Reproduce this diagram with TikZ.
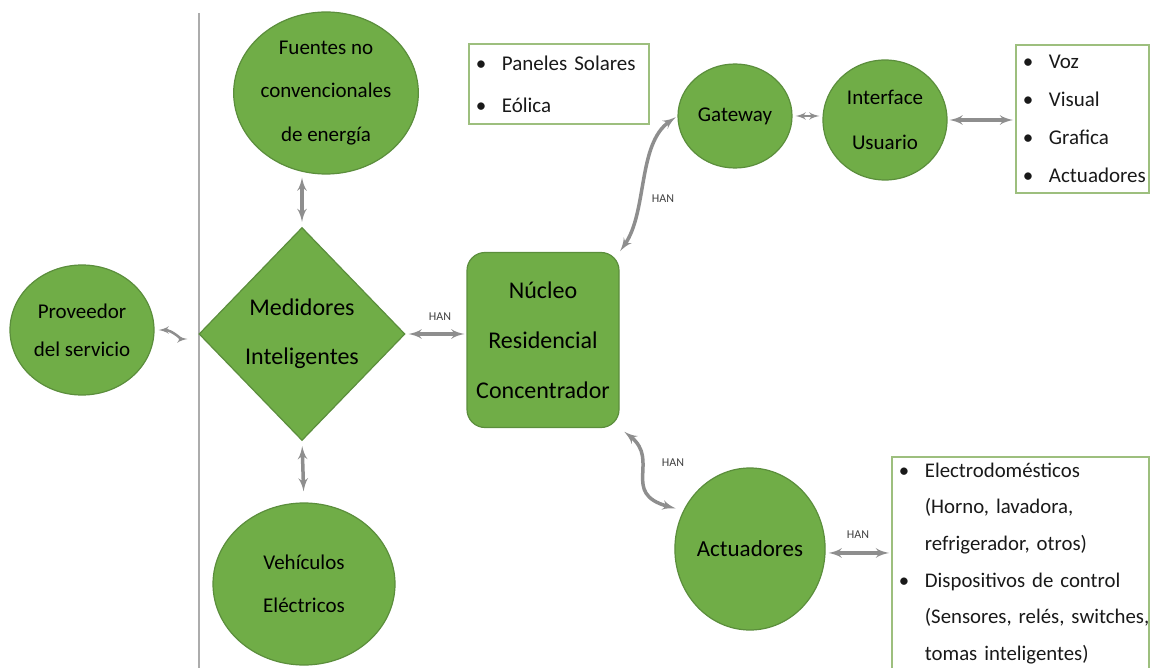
\documentclass[tikz,border=0pt]{standalone}
\usepackage{fontspec}
\setmainfont{Carlito}
\usetikzlibrary{shapes}
\usetikzlibrary{arrows}
\definecolor{hojaverde}{HTML}{70AD47}
\definecolor{bordeverde}{HTML}{5B8E3C}
\definecolor{marcoverde}{HTML}{9DBF7E}
\definecolor{flechagris}{HTML}{8E8E8E}
\newcommand{\vineta}[1]{\mbox{\makebox[26pt][l]{\textbullet}#1}}
\newcommand{\sigue}[1]{\mbox{\hspace*{26pt}#1}}

\begin{document}
\begin{tikzpicture}[x=1pt,y=-1pt]
\tikzset{blob/.style = {shape=ellipse,draw=bordeverde,fill=hojaverde,line width=1.2pt,inner sep=0pt,align=center,text=black}}
\tikzset{rombo/.style = {shape=diamond,draw=bordeverde,fill=hojaverde,line width=1.2pt,inner sep=0pt,align=center,text=black}}
\tikzset{caja/.style = {rectangle,rounded corners=18pt,draw=bordeverde,fill=hojaverde,line width=1.2pt,inner sep=0pt,align=center,text=black}}
\tikzset{lista/.style = {rectangle,draw=marcoverde,line width=1.8pt,anchor=north west,align=left,inner xsep=7pt,text=black!90}}
\tikzset{edge/.style = {<->,> = latex',draw=flechagris,line width=3.5pt}}
\tikzset{edgefino/.style = {<->,> = latex',draw=flechagris,line width=2.5pt}}
\tikzset{han/.style = {font=\fontsize{12}{12}\selectfont,text=black!75}}

\useasboundingbox (0,0) rectangle (1150,668);
\draw[gray!65, line width=1.5pt] (199,13) -- (199,668);

\node[blob, minimum width=144, minimum height=130, font=\fontsize{21}{38}\selectfont] (prov) at (82,330) {Proveedor\\del servicio};
\node[blob, minimum width=184, minimum height=162, font=\fontsize{21}{43.5}\selectfont] (fuentes) at (326,93) {Fuentes no\\convencionales\\de energía};
\node[rombo, minimum width=206, minimum height=213, font=\fontsize{24}{49}\selectfont] (med) at (302,334) {Medidores\\Inteligentes};
\node[blob, minimum width=182, minimum height=162, font=\fontsize{21}{43}\selectfont] (veh) at (304,584) {Vehículos\\Eléctricos};
\node[caja, minimum width=152, minimum height=175, font=\fontsize{24}{50}\selectfont] (nucleo) at (543,340) {Núcleo\\Residencial\\Concentrador};
\node[blob, minimum width=114, minimum height=104, font=\fontsize{21}{25}\selectfont] (gw) at (735,116) {Gateway};
\node[blob, minimum width=124, minimum height=120, font=\fontsize{21}{45}\selectfont] (inter) at (885,120) {Interface\\Usuario};
\node[blob, minimum width=141, minimum height=162, font=\fontsize{23}{27}\selectfont] (act) at (750,549) {Actuadores};

\node[lista, text width=166, minimum height=80, font=\fontsize{21}{42}\selectfont] (paneles) at (468,43)
  {\vineta{Paneles Solares}\\\vineta{Eólica}};
\node[lista, text width=119, minimum height=148, font=\fontsize{21}{38}\selectfont] (voz) at (1015,44)
  {\vineta{Voz}\\\vineta{Visual}\\\vineta{Grafica}\\\vineta{Actuadores}};
\node[lista, text width=243, inner ysep=6pt, font=\fontsize{20.8}{36.6}\selectfont] (elec) at (891,456)
  {\vineta{Electrodomésticos}\\\sigue{(Horno, lavadora,}\\\sigue{refrigerador, otros)}\\\vineta{Dispositivos de control}\\\sigue{(Sensores, relés, switches,}\\\sigue{tomas inteligentes)}};

\draw[edgefino, shorten <=4pt, shorten >=11pt] (prov.east) to[out=0, in=180] ([shift={(0,5)}]med.west);
\draw[edge, shorten <=3pt, shorten >=5pt] (fuentes.south -| med.north) -- (med.north);
\draw[edge, shorten <=5pt, shorten >=11pt] (med.south) -- (veh.north);
\draw[edge, shorten <=3pt, shorten >=2pt] (med.east) -- (med.east -| nucleo.west);
\draw[edge, shorten <=1pt, shorten >=2pt] (nucleo.north east) .. controls +(28,-40) and +(-40,28) .. (gw.west);
\draw[edge, shorten <=6pt, shorten >=8pt] (nucleo.south east) .. controls +(41,32) and +(-63,-17) .. (act.150);
\draw[edgefino, shorten <=3pt, shorten >=3pt] (gw.east) -- (gw.east -| inter.west);
\draw[edge, shorten <=2pt, shorten >=2pt] (inter.east) -- (inter.east -| voz.west);
\draw[edge, shorten <=3pt, shorten >=2pt] (act.-3) -- (act.-3 -| elec.west);

\node[han] (han1) at (440,317) {HAN};
\node[han] (han2) at (663,199) {HAN};
\node[han] (han3) at (673,463) {HAN};
\node[han] (han4) at (858,535) {HAN};
\end{tikzpicture}
\end{document}
